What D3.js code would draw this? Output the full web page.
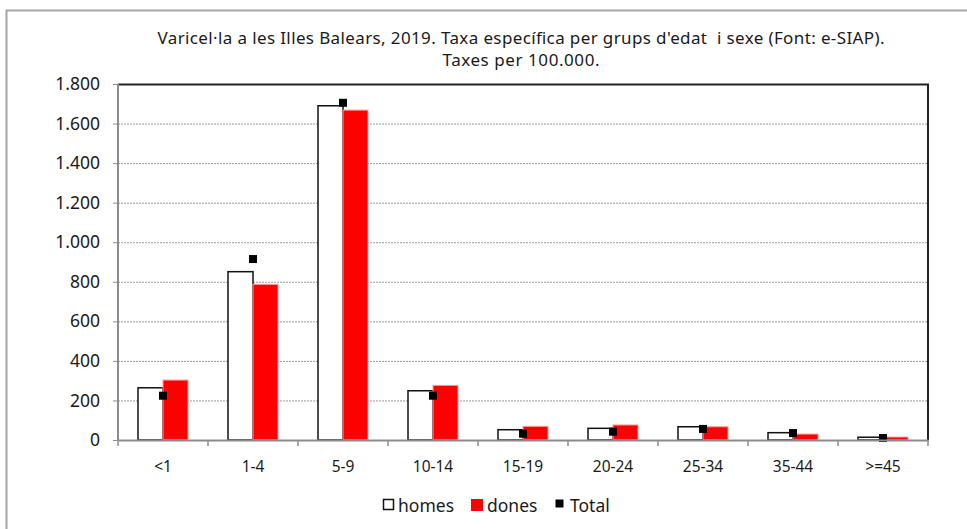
<!DOCTYPE html>
<html>
<head>
<meta charset="utf-8">
<script src="https://cdn.jsdelivr.net/npm/d3@7"></script>
<style>
  body { margin: 0; background: #fff; }
  svg text { font-family: "Noto Sans", sans-serif; fill: #1a1a1a; }
  .grid line { stroke: #9a9a9a; stroke-dasharray: 2,1; }
  .grid path { display: none; }
  .axis path, .axis line { stroke: #8c8c8c; }
</style>
</head>
<body>
<svg id="chart" width="967" height="529"></svg>
<script>
var categories = ["<1", "1-4", "5-9", "10-14", "15-19", "20-24", "25-34", "35-44", ">=45"];
var homes = [264, 851, 1690, 249, 52, 59, 67, 37, 14];
var dones = [303, 787, 1668, 276, 69, 76, 67, 30, 15];
var total = [224, 915, 1705, 224, 32, 42, 56, 35, 10];
var y_ticks = [0, 200, 400, 600, 800, 1000, 1200, 1400, 1600, 1800];
var title_lines = ["Varicel·la a les Illes Balears, 2019. Taxa específica per grups d'edat  i sexe (Font: e-SIAP).",
                   "Taxes per 100.000."];
var title_widths = [727, 157];

var margin = { top: 84, left: 118, right: 39, bottom: 89 };
var width = 967 - margin.left - margin.right;
var height = 529 - margin.top - margin.bottom;

var svg = d3.select("#chart");

// outer frame
svg.append("rect")
    .attr("x", 6.5).attr("y", 10.5)
    .attr("width", 1000).attr("height", 600)
    .attr("fill", "none")
    .attr("stroke", "#a6a6a6")
    .attr("stroke-width", 2);

svg.selectAll(".title")
    .data(title_lines)
    .enter().append("text")
    .attr("class", "title")
    .attr("x", 521)
    .attr("y", function (d, i) { return 44 + i * 22; })
    .attr("text-anchor", "middle")
    .attr("font-size", "17px")
    .attr("textLength", function (d, i) { return title_widths[i]; })
    .attr("lengthAdjust", "spacing")
    .style("white-space", "pre")
    .text(function (d) { return d; });

var g = svg.append("g")
    .attr("transform", "translate(" + margin.left + "," + margin.top + ")");

var x = d3.scaleBand().domain(categories).range([0, width]);
var y = d3.scaleLinear().domain([0, 1800]).range([height, 0]);
var sub = d3.scaleBand().domain(["homes", "dones"]).range([x.bandwidth() / 2 - 25, x.bandwidth() / 2 + 25]);

// gridlines
g.append("g")
    .attr("class", "grid")
    .call(d3.axisLeft(y).tickValues(y_ticks.slice(1, -1)).tickSize(-width).tickFormat(""));

// plot border top / right
g.append("path")
    .attr("d", "M0,0.5H" + width + "V" + height)
    .attr("fill", "none")
    .attr("stroke", "#222")
    .attr("stroke-width", 2);

var fmt = d3.formatLocale({ decimal: ",", thousands: ".", grouping: [3], currency: ["", "€"] }).format(",d");

var y_axis = g.append("g")
    .attr("class", "axis")
    .call(d3.axisLeft(y).tickValues(y_ticks).tickSize(5).tickPadding(13).tickFormat(fmt));
y_axis.select(".domain").attr("d", "M0," + height + "V0").attr("stroke-width", 2);
y_axis.selectAll("text").attr("font-size", "17.5px").attr("fill", "#1a1a1a");

var groups = g.selectAll(".cat")
    .data(categories)
    .enter().append("g")
    .attr("transform", function (d) { return "translate(" + x(d) + ",0)"; });

groups.append("rect")
    .attr("x", function (d) { return sub("homes"); })
    .attr("y", function (d, i) { return y(homes[i]); })
    .attr("width", sub.bandwidth())
    .attr("height", function (d, i) { return height - y(homes[i]); })
    .attr("fill", "#fff")
    .attr("stroke", "#111")
    .attr("stroke-width", 1.5);

groups.append("rect")
    .attr("x", function (d) { return sub("dones"); })
    .attr("y", function (d, i) { return y(dones[i]); })
    .attr("width", sub.bandwidth())
    .attr("height", function (d, i) { return height - y(dones[i]); })
    .attr("fill", "#ff0000")
    .attr("stroke", "#ff9a9a")
    .attr("stroke-width", 1);

// x axis
var x_axis = g.append("g")
    .attr("class", "axis")
    .attr("transform", "translate(0," + height + ")")
    .call(d3.axisBottom(x).tickSize(0).tickPadding(21));
x_axis.select(".domain").attr("stroke-width", 2);
x_axis.selectAll("text").attr("font-size", "15.5px").attr("fill", "#1a1a1a");
x_axis.selectAll(".sep")
    .data(d3.range(categories.length + 1))
    .enter().append("line")
    .attr("x1", function (d) { return d * x.step(); })
    .attr("x2", function (d) { return d * x.step(); })
    .attr("y1", 0).attr("y2", 6)
    .attr("stroke", "#8c8c8c")
    .attr("stroke-width", 1.5);

// total markers
groups.append("rect")
    .attr("x", x.bandwidth() / 2 - 4)
    .attr("y", function (d, i) { return y(total[i]) - 4; })
    .attr("width", 8)
    .attr("height", 8)
    .attr("fill", "#000");

// legend
var legend = [
    { name: "homes", x: 383, fill: "#fff", stroke: "#111" },
    { name: "dones", x: 471, fill: "#ff0000", stroke: "none" },
    { name: "Total", x: 555, fill: "#000", stroke: "none" }
];
var lg = svg.selectAll(".legend")
    .data(legend)
    .enter().append("g")
    .attr("transform", function (d) { return "translate(" + d.x + ",505)"; });
lg.append("rect")
    .attr("x", function (d) { return d.name == "dones" ? 0 : 0.5; })
    .attr("y", function (d) { return d.name == "dones" ? -6 : -5.5; })
    .attr("width", function (d) { return d.name == "dones" ? 12 : (d.name == "Total" ? 8 : 10); })
    .attr("height", function (d) { return d.name == "dones" ? 12 : (d.name == "Total" ? 8 : 10); })
    .attr("fill", function (d) { return d.fill; })
    .attr("stroke", function (d) { return d.stroke; })
    .attr("stroke-width", 1.5);
lg.append("text")
    .attr("x", function (d) { return d.name == "dones" ? 16 : 15; })
    .attr("y", 6.5)
    .attr("font-size", "17.5px")
    .text(function (d) { return d.name; });
</script>
</body>
</html>
